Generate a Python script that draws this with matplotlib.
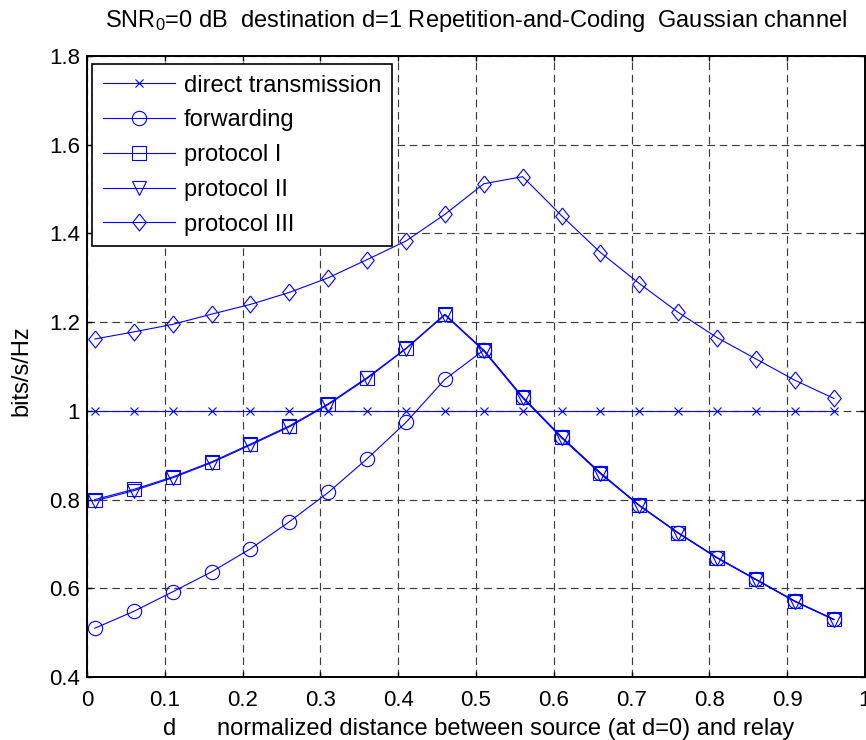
import numpy as np
import matplotlib
matplotlib.use("Agg")
import matplotlib.pyplot as plt

plt.rcParams['font.family'] = ['Liberation Sans', 'DejaVu Sans']
plt.rcParams['mathtext.fontset'] = 'custom'
plt.rcParams['mathtext.rm'] = 'Liberation Sans'
plt.rcParams['mathtext.it'] = 'Liberation Sans:italic'

# distance of the relay (normalized)
d = [0.01, 0.06, 0.11, 0.16, 0.21, 0.26, 0.31, 0.36, 0.41, 0.46,
     0.51, 0.56, 0.61, 0.66, 0.71, 0.76, 0.81, 0.86, 0.91, 0.96]

direct = [1.0, 1.0, 1.0, 1.0, 1.0, 1.0, 1.0, 1.0, 1.0, 1.0,
          1.0, 1.0, 1.0, 1.0, 1.0, 1.0, 1.0, 1.0, 1.0, 1.0]
forwarding = [0.510, 0.548, 0.592, 0.637, 0.689, 0.750, 0.816, 0.892, 0.974, 1.071,
              1.137, 1.031, 0.941, 0.860, 0.787, 0.725, 0.669, 0.620, 0.571, 0.530]
protocol1 = [0.800, 0.823, 0.851, 0.885, 0.925, 0.966, 1.016, 1.075, 1.141, 1.218,
             1.137, 1.031, 0.941, 0.860, 0.787, 0.725, 0.669, 0.620, 0.571, 0.530]
protocol2 = [0.797, 0.820, 0.849, 0.883, 0.923, 0.964, 1.014, 1.073, 1.140, 1.216,
             1.135, 1.029, 0.939, 0.858, 0.786, 0.724, 0.668, 0.619, 0.570, 0.529]
protocol3 = [1.162, 1.178, 1.195, 1.218, 1.240, 1.267, 1.300, 1.341, 1.383, 1.443,
             1.512, 1.528, 1.440, 1.357, 1.287, 1.222, 1.165, 1.117, 1.069, 1.028]

labels = ['direct transmission', 'forwarding', 'protocol I', 'protocol II', 'protocol III']

xticks = [0, 0.1, 0.2, 0.3, 0.4, 0.5, 0.6, 0.7, 0.8, 0.9, 1]
xticklabels = ['0', '0.1', '0.2', '0.3', '0.4', '0.5', '0.6', '0.7', '0.8', '0.9', '1']
yticks = [0.4, 0.6, 0.8, 1.0, 1.2, 1.4, 1.6, 1.8]
yticklabels = ['0.4', '0.6', '0.8', '1', '1.2', '1.4', '1.6', '1.8']

blue = (0, 0, 1)
diamond = [(0, 1), (0.8, 0), (0, -1), (-0.8, 0), (0, 1)]

fig = plt.figure(figsize=(8.66, 7.4), dpi=100)
ax = fig.add_axes([0.1005, 0.0851, 0.8983, 0.8392])

common = dict(color=blue, lw=0.8, mfc='none', mec=blue, mew=0.8)
ax.plot(d, direct, marker='x', ms=5.3, label=labels[0], **common)
ax.plot(d, forwarding, marker='o', ms=10.3, label=labels[1], **common)
ax.plot(d, protocol1, marker='s', ms=9.7, label=labels[2], **common)
ax.plot(d, protocol2, marker='v', ms=10.3, label=labels[3], **common)
ax.plot(d, protocol3, marker=diamond, ms=12.2, label=labels[4], **common)

ax.set_xlim(0, 1)
ax.set_ylim(0.4, 1.8)
ax.set_xticks(xticks)
ax.set_xticklabels(xticklabels)
ax.set_yticks(yticks)
ax.set_yticklabels(yticklabels)
ax.tick_params(axis='both', direction='in', length=3.6, width=1, labelsize=16,
               top=True, right=True)
ax.tick_params(axis='x', pad=9)
ax.tick_params(axis='y', pad=5)
for s in ax.spines.values():
    s.set_linewidth(1.4)
    s.set_color('black')

ax.set_axisbelow(True)
ax.grid(True, color='#3c3c3c', lw=0.85, linestyle=(0, (6.5, 4)))

ax.set_title(r'$\mathrm{SNR}_0$=0 dB  destination d=1 Repetition-and-Coding  Gaussian channel',
             fontsize=17, pad=21)

fig.text(163 / 866, 5 / 740, 'd', fontsize=17, ha='left', va='baseline')
fig.text(217 / 866, 5 / 740, 'normalized distance between source (at d=0) and relay',
         fontsize=17, ha='left', va='baseline')
fig.text(21 / 866, (740 - 371) / 740, 'bits/s/Hz', fontsize=17, rotation=90,
         ha='center', va='center')

leg = ax.legend(loc='upper left', bbox_to_anchor=(5 / 778, 613 / 621), borderaxespad=0,
                fontsize=17, numpoints=1, handlelength=3.05, handletextpad=0.4,
                labelspacing=0.54, borderpad=0.45, fancybox=False, framealpha=1)
leg.get_frame().set_edgecolor('black')
leg.get_frame().set_linewidth(1.2)

fig.savefig('out.png', dpi=100)
